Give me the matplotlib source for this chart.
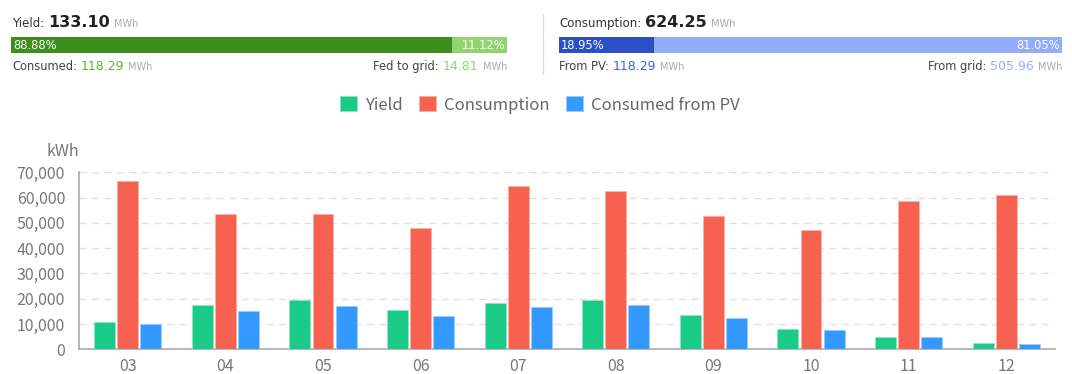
import numpy as np
import matplotlib
matplotlib.use("Agg")
import matplotlib.pyplot as plt
import matplotlib.patches as mpatches
from matplotlib.transforms import IdentityTransform

# monthly energy, kWh
months = ["03", "04", "05", "06", "07", "08", "09", "10", "11", "12"]
yield_kwh = [10600, 17500, 19400, 15500, 18400, 19600, 13700, 8100, 4900, 2400]
consumption_kwh = [66400, 53400, 53400, 47900, 64700, 62500, 52700, 47000, 58800, 61100]
from_pv_kwh = [10000, 15000, 17300, 13000, 16900, 17600, 12200, 7600, 4800, 2200]

# summary figures, MWh
total_yield = 133.10
consumed = 118.29
fed_to_grid = 14.81
total_consumption = 624.25
from_pv = 118.29
from_grid = 505.96
# shares shown in the split bars, %
yield_shares = [88.88, 11.12]
consumption_shares = [18.95, 81.05]

W, H = 1072, 374
fig = plt.figure(figsize=(W / 100, H / 100), dpi=100)
fig.patch.set_facecolor("white")
renderer = fig.canvas.get_renderer()

TOP_FONT = "DejaVu Sans"
CHART_FONT = ["Noto Sans CJK SC", "DejaVu Sans"]


def chain(x, y, parts, align="left", gap=4):
    """Place text pieces on one baseline, in image pixel coords (y down)."""
    texts = []
    for s, kw in parts:
        t = fig.text(0, H - y, s, transform=IdentityTransform(), va="baseline",
                     ha="left", family=TOP_FONT, **kw)
        texts.append(t)
    widths = [t.get_window_extent(renderer).width for t in texts]
    total = sum(widths) + gap * (len(widths) - 1)
    if align == "right":
        x -= total
    for t, w in zip(texts, widths):
        t.set_x(x)
        x += w + gap


def split_bar(x0, x1, y0, y1, shares, c_dark, c_light):
    split = x0 + (x1 - x0) * shares[0] / sum(shares)
    for a, b, c in [(x0, split, c_dark), (split, x1, c_light)]:
        fig.patches.append(mpatches.Rectangle(
            (a, H - y1), b - a, y1 - y0, transform=IdentityTransform(),
            facecolor=c, edgecolor="none", figure=fig))
    ymid = H - (y0 + y1) / 2 - 0.5
    fig.text(x0 + 2, ymid, "%.2f%%" % shares[0], transform=IdentityTransform(),
             ha="left", va="center", color="white", fontsize=8.3, family=TOP_FONT)
    fig.text(x1 - 2, ymid, "%.2f%%" % shares[1], transform=IdentityTransform(),
             ha="right", va="center", color="white", fontsize=8.3, family=TOP_FONT)


label_kw = dict(fontsize=8.5, color="#333333")
big_kw = dict(fontsize=11.5, color="#222222", fontweight="bold")
unit_kw = dict(fontsize=7, color="#aaaaaa")
small_kw = dict(fontsize=8.3, color="#444444")
num_size = 9

# yield summary
chain(12, 27, [("Yield:", label_kw), ("%.2f" % total_yield, big_kw), ("MWh", unit_kw)])
split_bar(11, 507, 37, 52.5, yield_shares, "#3d8e1c", "#8fd46e")
chain(12, 70, [("Consumed:", small_kw),
               ("%.2f" % consumed, dict(fontsize=num_size, color="#5cb536")),
               ("MWh", unit_kw)])
chain(507, 70, [("Fed to grid:", small_kw),
                ("%.2f" % fed_to_grid, dict(fontsize=num_size, color="#8fd46e")),
                ("MWh", unit_kw)], align="right")

# separator
fig.lines.append(plt.Line2D([543, 543], [H - 14, H - 74], transform=IdentityTransform(),
                            color="#dddddd", lw=1, figure=fig))

# consumption summary
chain(559, 27, [("Consumption:", label_kw), ("%.2f" % total_consumption, big_kw),
                ("MWh", unit_kw)])
split_bar(559, 1062, 37, 52.5, consumption_shares, "#2b50c6", "#93acfb")
chain(559, 70, [("From PV:", small_kw),
                ("%.2f" % from_pv, dict(fontsize=num_size, color="#3a63d8")),
                ("MWh", unit_kw)])
chain(1062, 70, [("From grid:", small_kw),
                 ("%.2f" % from_grid, dict(fontsize=num_size, color="#93acfb")),
                 ("MWh", unit_kw)], align="right")

# bar chart
ax = fig.add_axes([79 / W, 1 - 349.3 / H, (1055 - 79) / W, (349.3 - 172.3) / H])
colors = ["#19cb86", "#f6624f", "#3399ff"]
edges = ["#8fe6c3", "#fbb0a7", "#99ccff"]
series = [yield_kwh, consumption_kwh, from_pv_kwh]
names = ["Yield", "Consumption", "Consumed from PV"]
x = np.arange(len(months))
bw = 0.215
step = 0.236
handles = []
for i, (vals, c, e, n) in enumerate(zip(series, colors, edges, names)):
    ax.bar(x + (i - 1) * step, vals, width=bw, color=c, edgecolor=e, linewidth=0.6,
           zorder=3)
    handles.append(mpatches.Patch(facecolor=c, edgecolor=e, linewidth=0.6, label=n))

ax.set_xlim(-0.5, len(months) - 0.5)
ax.set_ylim(0, 70000)
ax.set_yticks(np.arange(0, 70001, 10000))
ax.set_yticklabels(["{:,}".format(v) for v in range(0, 70001, 10000)])
ax.set_xticks(x)
ax.set_xticklabels(months)
for yv in range(10000, 70001, 10000):
    ax.axhline(yv, color="#e0e0e0", lw=1, ls=(0, (5, 4)), zorder=1)
for s in ["top", "right"]:
    ax.spines[s].set_visible(False)
for s in ["left", "bottom"]:
    ax.spines[s].set_color("#aaaaaa")
    ax.spines[s].set_linewidth(1.2)
ax.tick_params(length=0, colors="#777777", labelsize=11.5)
ax.tick_params(axis="x", pad=6)
ax.tick_params(axis="y", pad=10)
for lab in ax.get_xticklabels() + ax.get_yticklabels():
    lab.set_family(CHART_FONT)
ax.text(0, 1.07, "kWh", transform=ax.transAxes, ha="right", va="bottom",
        color="#777777", fontsize=11.5, family=CHART_FONT)

leg = fig.legend(handles=handles, loc="center", bbox_to_anchor=(540 / W, 1 - 105 / H),
                 ncol=3, frameon=False, handlelength=1.0, handleheight=1.0,
                 handletextpad=0.5, columnspacing=1.0,
                 prop={"family": CHART_FONT, "size": 12})
for t in leg.get_texts():
    t.set_color("#666666")

fig.savefig("out.png", dpi=100, facecolor="white")
